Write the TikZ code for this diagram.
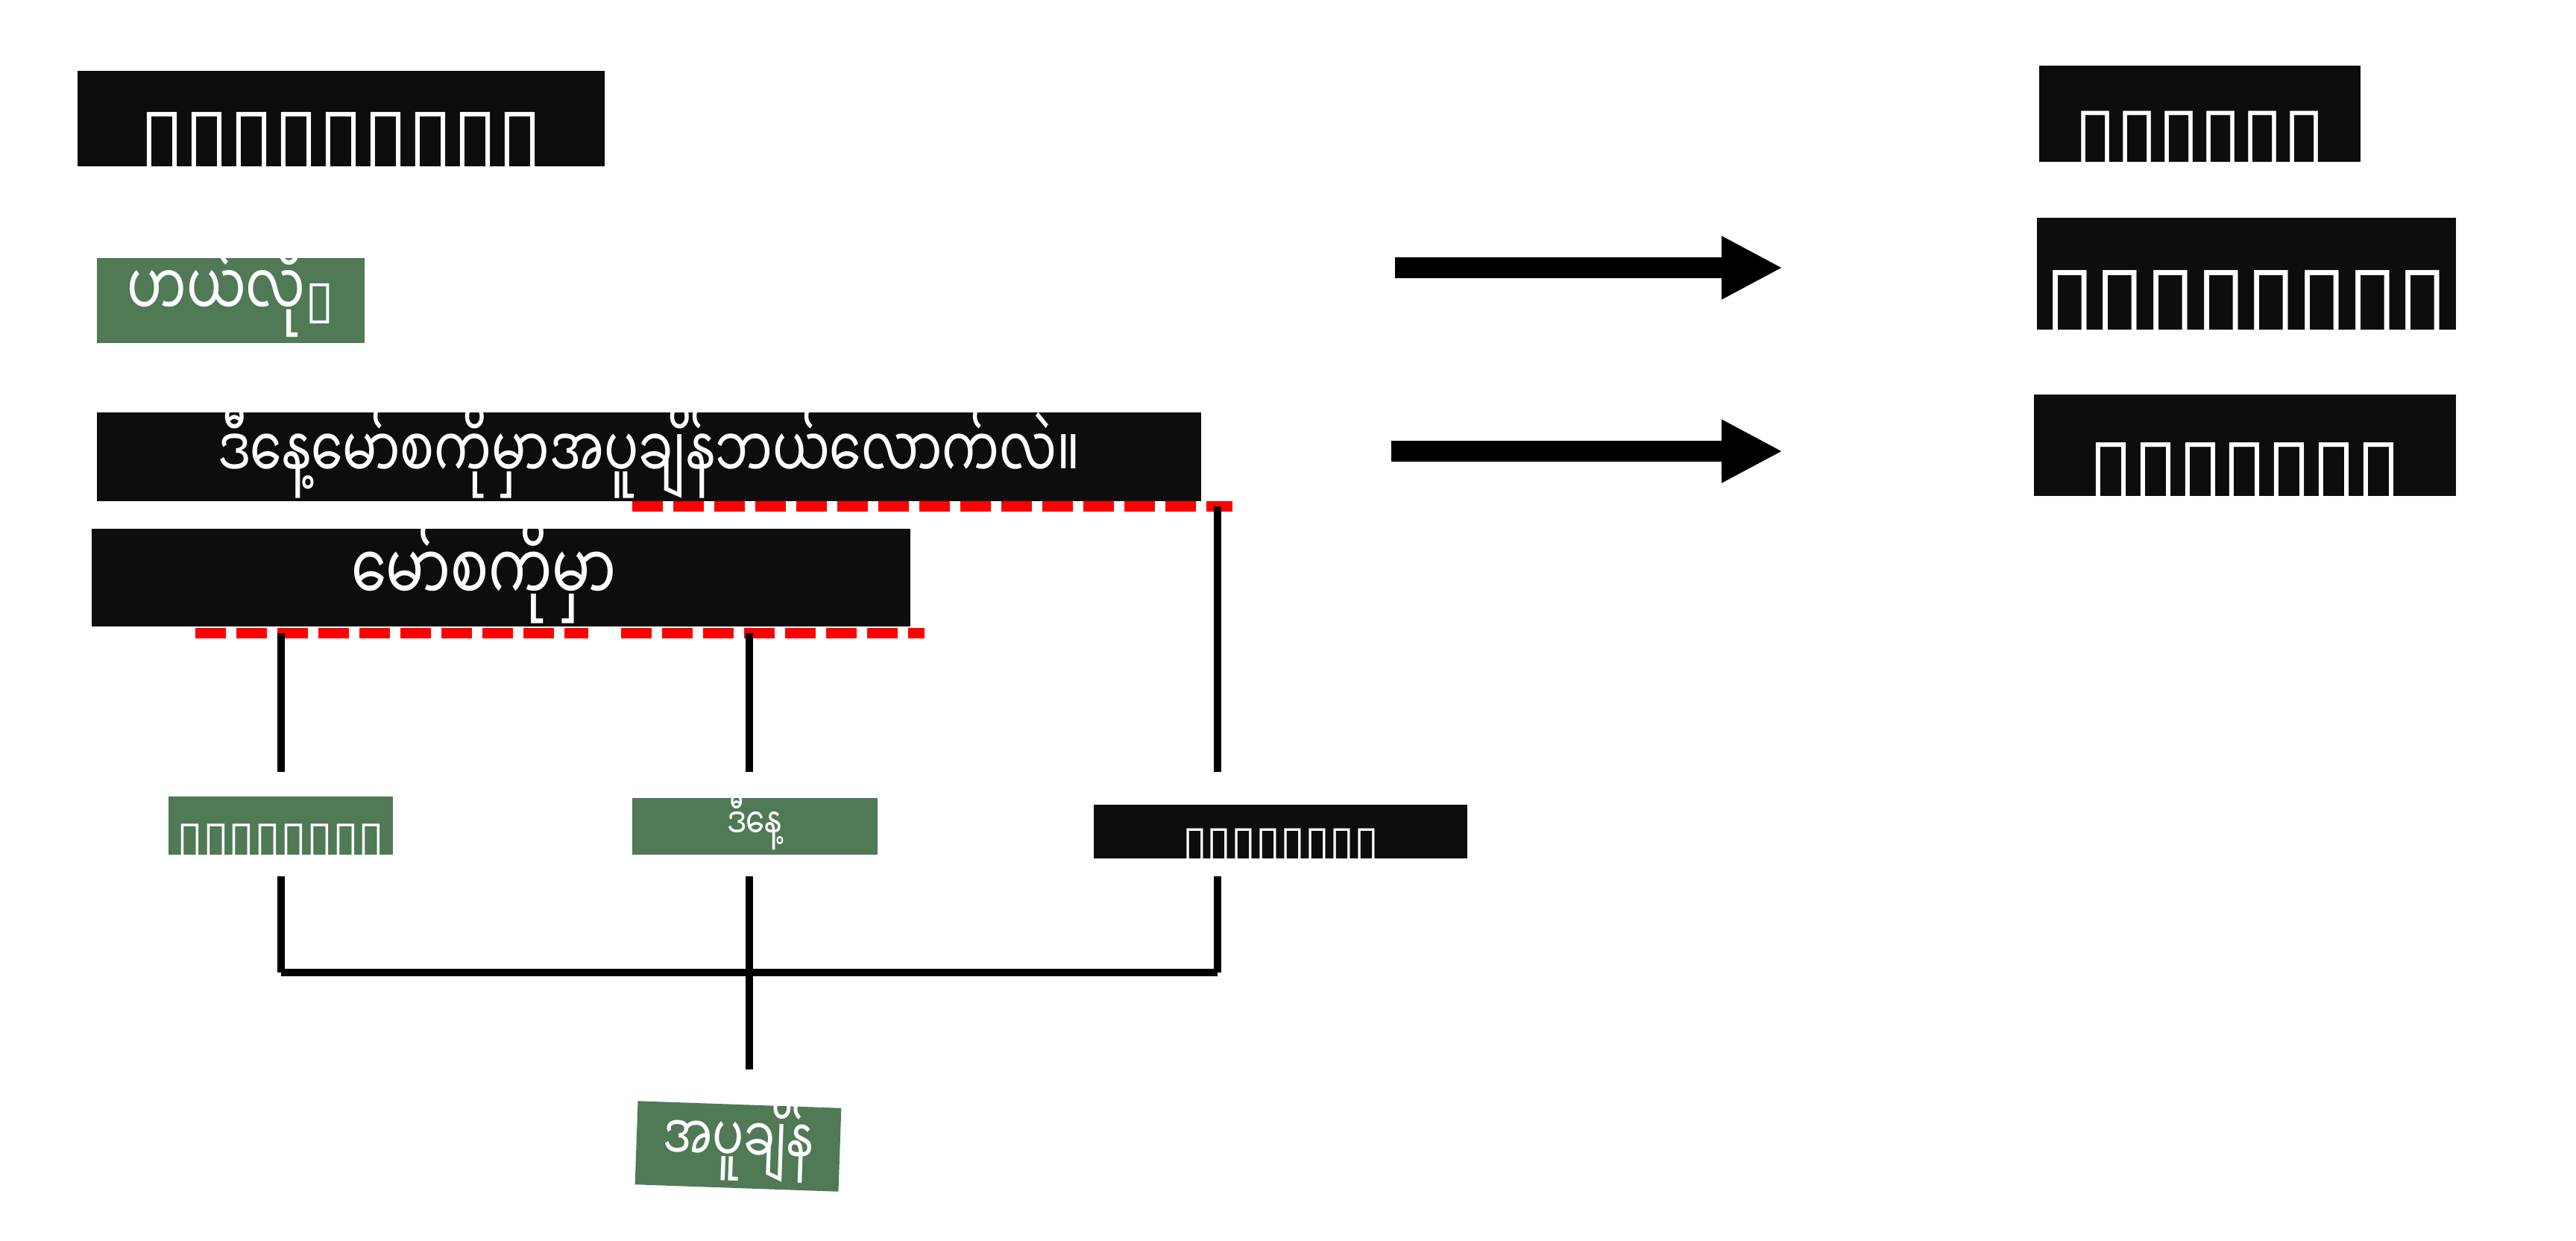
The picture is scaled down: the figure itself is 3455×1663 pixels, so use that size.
\documentclass[tikz,border=0pt]{standalone}
\usepackage{fontspec}
\usetikzlibrary{arrows.meta}
\newfontfamily\mmfont[Script=Myanmar,FakeStretch=0.72]{Noto Sans Myanmar UI}
\newfontfamily\boxfont{DejaVu Sans}
\definecolor{leaf}{RGB}{80,121,86}
\definecolor{ink}{RGB}{13,13,13}
\begin{document}
\begin{tikzpicture}[x=0.1mm,y=-0.1mm,
  tag/.style={inner sep=0pt,text=white,text depth=0pt},
  darktag/.style={tag,fill=ink},
  greentag/.style={tag,fill=leaf},
  link/.style={line width=1mm},
  cut/.style={line width=1.4mm,red,dash pattern=on 4.1mm off 1.4mm},
  fat/.style={line width=2.8mm,-{Triangle[length=8.2mm,width=7.9mm]}}]
  \useasboundingbox (0,0) rectangle (3455,1663);
  \node[darktag,minimum width=70.7mm,minimum height=12.8mm,text height=12.2mm] (title) at (457.5,159)
    {\boxfont\fontsize{31}{31}\selectfont ▯▯▯▯▯▯▯▯▯};
  \node[greentag,minimum width=35.9mm,minimum height=11.4mm,text height=4.4mm] (hello) at (309.5,403)
    {\mmfont\fontsize{28}{28}\selectfont ဟယ်လို{\boxfont\fontsize{20}{20}\selectfont ▯}};
  \node[darktag,minimum width=148.1mm,minimum height=11.9mm,text height=6mm] (ask) at (870.5,612.5)
    {\mmfont\fontsize{27}{27}\selectfont ဒီနေ့မော်စကိုမှာအပူချိန်ဘယ်လောက်လဲ။};
  \node[darktag,minimum width=109.8mm,minimum height=13.1mm,text height=6.6mm] (city) at (672,774.5)
    {\mmfont\fontsize{30}{30}\selectfont မော်စကိုမှာ\kern4.6mm};
  \node[greentag,minimum width=30.1mm,minimum height=7.8mm,text height=7.6mm] (tokA) at (376.5,1107)
    {\boxfont\fontsize{18}{18}\selectfont ▯▯▯▯▯▯▯▯};
  \node[greentag,minimum width=32.9mm,minimum height=7.6mm,text height=3.2mm] (tokB) at (1012,1108)
    {\mmfont\fontsize{16}{16}\selectfont ဒီနေ့};
  \node[darktag,minimum width=50.1mm,minimum height=7.2mm,text height=6.8mm] (tokC) at (1717.5,1115)
    {\boxfont\fontsize{17}{17}\selectfont ▯▯▯▯▯▯▯▯};
  \node[greentag,rotate=-2,minimum width=27.3mm,minimum height=11.2mm,text height=4.6mm] (heat) at (990,1537)
    {\mmfont\fontsize{24.5}{24.5}\selectfont အပူချိန်};
  \node[darktag,minimum width=43.1mm,minimum height=12.9mm,text height=12.4mm] (outA) at (2950.5,152.5)
    {\boxfont\fontsize{29}{29}\selectfont ▯▯▯▯▯▯};
  \node[darktag,minimum width=56.2mm,minimum height=15mm,text height=14.8mm] (outB) at (3013,367)
    {\boxfont\fontsize{35}{35}\selectfont ▯▯▯▯▯▯▯▯};
  \node[darktag,minimum width=56.6mm,minimum height=13.6mm,text height=13.2mm] (outC) at (3011,597)
    {\boxfont\fontsize{31}{31}\selectfont ▯▯▯▯▯▯▯};
  \coordinate (a1) at (1871,359);
  \coordinate (b1) at (2391,359);
  \coordinate (a2) at (1866,605);
  \coordinate (b2) at (2391,605);
  \draw[fat] (a1) -- (b1);
  \draw[fat] (a2) -- (b2);
  \draw[cut] (848,679) -- (1653,679);
  \draw[cut] (262,849) -- (789,849);
  \draw[cut] (833,849) -- (1240,849);
  \coordinate (c1) at (377,849);
  \coordinate (c2) at (1005,849);
  \coordinate (c3) at (1633,679);
  \coordinate (j) at (1005,1304);
  \draw[link,shorten >=3.2mm] (c1) -- (c1 |- tokA.north);
  \draw[link,shorten >=3.4mm] (c2) -- (c2 |- tokB.north);
  \draw[link,shorten >=4.3mm] (c3) -- (c3 |- tokC.north);
  \draw[link,shorten <=2.8mm] (c1 |- tokA.south) -- (c1 |- j);
  \draw[link,shorten <=2.8mm] (j |- tokB.south) -- (j);
  \draw[link,shorten <=2.3mm] (c3 |- tokC.south) -- (c3 |- j);
  \draw[link] (c1 |- j) -- (c3 |- j);
  \draw[link,shorten >=4.6mm] (j) -- (j |- heat.north);
\end{tikzpicture}
\end{document}
